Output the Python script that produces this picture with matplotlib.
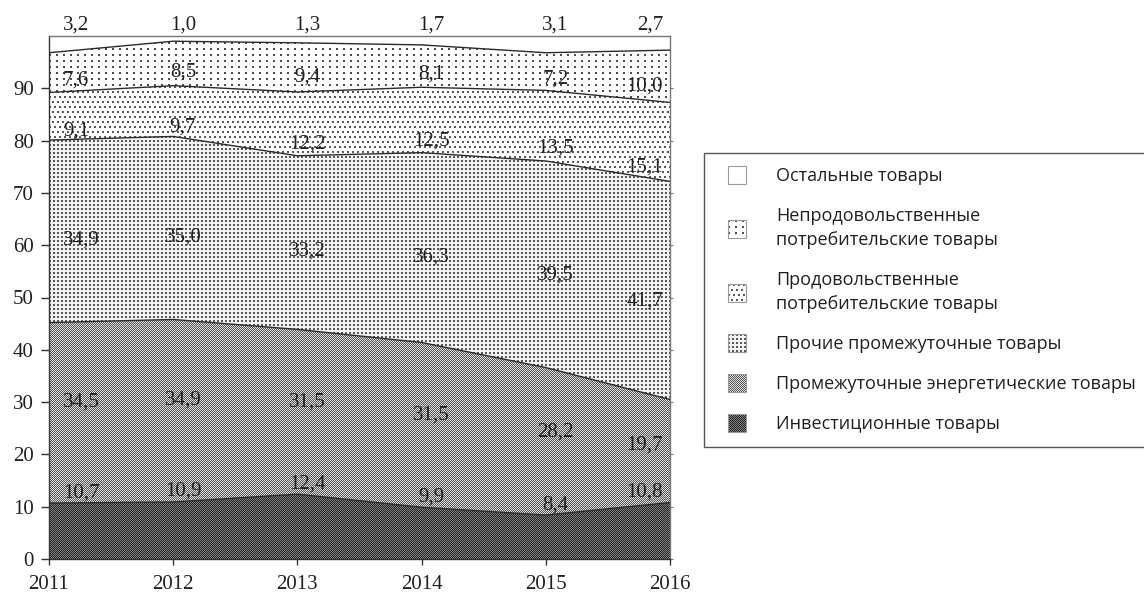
import numpy as np
import matplotlib
matplotlib.use("Agg")
import matplotlib.pyplot as plt
from matplotlib.patches import Rectangle
from matplotlib.legend_handler import HandlerBase
from matplotlib.image import BboxImage
from matplotlib.transforms import Bbox, TransformedBbox

# ---------------- data ----------------
years = [2011, 2012, 2013, 2014, 2015, 2016]
investment = [10.7, 10.9, 12.4, 9.9, 8.4, 10.8]
energy = [34.5, 34.9, 31.5, 31.5, 28.2, 19.7]
other_intermediate = [34.9, 35.0, 33.2, 36.3, 39.5, 41.7]
food_consumer = [9.1, 9.7, 12.2, 12.5, 13.5, 15.1]
nonfood_consumer = [7.6, 8.5, 9.4, 8.1, 7.2, 10.0]
other_goods = [3.2, 1.0, 1.3, 1.7, 3.1, 2.7]

series_labels = [
    "Инвестиционные товары",
    "Промежуточные энергетические товары",
    "Прочие промежуточные товары",
    "Продовольственные\nпотребительские товары",
    "Непродовольственные\nпотребительские товары",
    "Остальные товары",
]
y_ticks = [0, 10, 20, 30, 40, 50, 60, 70, 80, 90]

# ---------------- textures ----------------
def texture(kind, h, w):
    yy, xx = np.mgrid[0:h, 0:w]
    a = np.ones((h, w))
    if kind == "inv":
        a[:] = np.where((yy + xx) % 2 == 0, 0.12, 0.52)
    elif kind == "energy":
        a[:] = np.where((yy + xx) % 2 == 0, 0.32, 0.88)
    elif kind == "oint":
        a[:] = 0.95
        a[(yy % 4 < 2) & (xx % 4 < 2)] = 0.35
    elif kind == "food":
        a[:] = 1.0
        off = (yy // 5) % 2 * 2
        a[((yy % 5) < 2) & (((xx + off) % 5) < 2)] = 0.35
    elif kind == "nonfood":
        a[:] = 1.0
        a[((yy % 6) < 2) & ((xx % 7) < 2)] = 0.30
    else:
        a[:] = 1.0
    return a

kinds = ["inv", "energy", "oint", "food", "nonfood", "other"]

class TexHandle:
    def __init__(self, kind):
        self.kind = kind

class HandlerTex(HandlerBase):
    def create_artists(self, legend, orig_handle, xdescent, ydescent,
                       width, height, fontsize, trans):
        s = 18 * 72 / 100.0
        x0 = -xdescent + width - s
        y0 = -ydescent + (height - s) / 2
        bb = TransformedBbox(Bbox.from_bounds(x0, y0, s, s), trans)
        img = BboxImage(bb, cmap="gray", norm=matplotlib.colors.Normalize(0, 1),
                        interpolation="nearest", origin="upper")
        img.set_data(texture(orig_handle.kind, 18, 18))
        frame = Rectangle((x0, y0), s, s, facecolor="none",
                          edgecolor="#9a9a9a", lw=0.8, transform=trans)
        return [img, frame]

# ---------------- figure ----------------
W, H = 1144, 594
fig = plt.figure(figsize=(W / 100, H / 100), dpi=100)
ax_l, ax_b, ax_w, ax_h = 49, 35, 621, 523
ax = fig.add_axes([ax_l / W, ax_b / H, ax_w / W, ax_h / H])

data = [investment, energy, other_intermediate, food_consumer,
        nonfood_consumer, other_goods]
cum = np.zeros(len(years))
bottoms = []
for vals, kind in zip(data, kinds):
    v = np.array(vals)
    top = cum + v
    bottoms.append(cum.copy())
    poly = ax.fill_between(years, cum, top, facecolor="none", edgecolor="none")
    if kind != "other":
        im = ax.imshow(texture(kind, ax_h, ax_w), extent=(2011, 2016, 0, 100),
                       aspect="auto", cmap="gray", vmin=0, vmax=1,
                       interpolation="nearest", origin="upper", zorder=1)
        im.set_clip_path(poly.get_paths()[0], transform=ax.transData)
        ax.plot(years, top, color="#2a2a2a", lw=1.0, zorder=3)
    cum = top

ax.set_xlim(2011, 2016)
ax.set_ylim(0, 100)

serif = "Liberation Serif"
tc = "#231f20"

# value labels
fracs = {"energy": 0.56, "oint": 0.45, "food": 0.18, "nonfood": 0.31}
for vals, kind, bot in zip(data, kinds, bottoms):
    for i, (yr, v) in enumerate(zip(years, vals)):
        txt = f"{v:.1f}".replace(".", ",")
        if kind == "other":
            y, dy = 100, 8
        elif kind == "inv":
            y, dy = bot[i] + v + 2.0, 0
        else:
            y, dy = bot[i] + v * fracs[kind], 0
        if i == 0:
            ha, dx = "left", 10
        elif i == len(years) - 1:
            ha, dx = "right", -5
        else:
            ha, dx = "center", 7
        ax.annotate(txt, (yr, y), xytext=(dx, dy), textcoords="offset points",
                    ha=ha, va="center", fontsize=15, family=serif, color=tc,
                    zorder=5, annotation_clip=False)

# axes styling
ax.set_xticks(years)
ax.set_xticklabels([str(y) for y in years], fontfamily=serif, fontsize=15, color=tc)
ax.set_yticks(y_ticks)
ax.set_yticklabels([str(t) for t in y_ticks], fontfamily=serif, fontsize=15, color=tc)
ax.tick_params(axis="y", length=6, width=1, color="#333", pad=5)
ax.tick_params(axis="x", length=4.5, width=1, color="#333", pad=7)
for sp in ["left", "bottom"]:
    ax.spines[sp].set_color("#333")
    ax.spines[sp].set_linewidth(1)
for sp in ["top", "right"]:
    ax.spines[sp].set_color("#777")
    ax.spines[sp].set_linewidth(1)
sec = ax.secondary_yaxis("right")
sec.set_yticks(y_ticks)
sec.set_yticklabels([])
sec.tick_params(length=2.5, color="#777")
sec.spines["right"].set_visible(False)

# legend
handles = [TexHandle(k) for k in kinds][::-1]
labels = series_labels[::-1]
leg = fig.legend(handles, labels, handler_map={TexHandle: HandlerTex()},
                 loc="upper left", bbox_to_anchor=(704 / W, 1 - 153 / H),
                 borderaxespad=0, fancybox=False, frameon=True,
                 edgecolor="#555555", framealpha=1,
                 prop={"family": "Open Sans", "size": 13.0},
                 borderpad=0.78, handlelength=1.53, handleheight=1.0,
                 handletextpad=1.67, labelspacing=1.2)
leg.get_frame().set_linewidth(1.0)
for t in leg.get_texts():
    t.set_linespacing(1.45)
    t.set_color("#231f20")

fig.savefig("out.png", dpi=100)
